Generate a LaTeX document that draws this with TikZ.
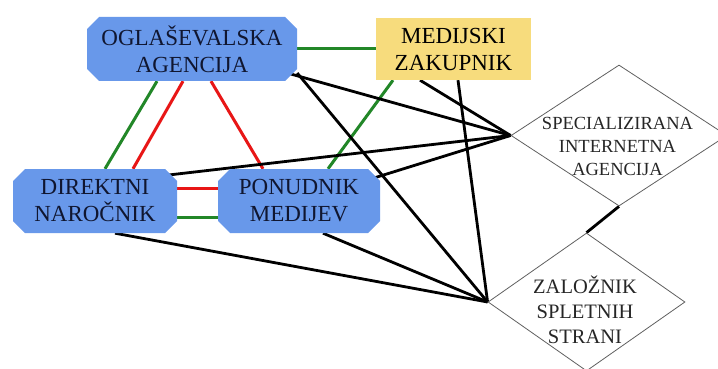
\documentclass[tikz,border=0pt]{standalone}
\usepackage{fontspec}
\setmainfont{Liberation Serif}
\usetikzlibrary{shapes.misc,shapes.geometric,calc,backgrounds}
\definecolor{boxblue}{RGB}{104,152,234}
\definecolor{boxyellow}{RGB}{247,220,125}
\definecolor{lgreen}{RGB}{34,135,40}
\definecolor{lred}{RGB}{232,22,22}
\definecolor{txtnavy}{RGB}{16,22,48}
\definecolor{diagray}{RGB}{95,95,95}
\begin{document}
\begin{tikzpicture}[x=1pt,y=-1pt,
  bluebox/.style={chamfered rectangle, chamfered rectangle xsep=6pt, chamfered rectangle ysep=6pt,
     fill=boxblue, draw=none, inner sep=0pt, align=center, text=txtnavy,
     font=\fontsize{23}{27}\selectfont},
  yellowbox/.style={rectangle, fill=boxyellow, draw=none, inner sep=0pt, align=center, text=black,
     font=\fontsize{23}{27}\selectfont},
  diam/.style={diamond, draw=diagray, line width=0.8pt, inner sep=0pt},
  diamtext/.style={align=center, text=black!85, inner sep=0pt},
  gline/.style={draw=lgreen, line width=3pt},
  rline/.style={draw=lred, line width=3pt},
  kline/.style={draw=black, line width=2.8pt}]
\useasboundingbox (0,0) rectangle (718,369);
% boxes
\node[bluebox, minimum width=210pt, minimum height=64pt] (OA) at (192,49) {OGLAŠEVALSKA\\AGENCIJA};
\node[yellowbox, minimum width=155pt, minimum height=62pt] (MZ) at (453.5,49) {MEDIJSKI\\ZAKUPNIK};
\node[bluebox, minimum width=164pt, minimum height=64pt] (DN) at (95,201) {DIREKTNI\\NAROČNIK};
\node[bluebox, minimum width=162pt, minimum height=64pt] (PM) at (299,201) {PONUDNIK\\MEDIJEV};
\node[diam, minimum width=216pt, minimum height=141pt] (SIA) at (619,135.5) {};
\node[diamtext, font=\fontsize{18.5}{23}\selectfont] (SIAt) at (617.5,146) {SPECIALIZIRANA\\INTERNETNA\\AGENCIJA};
\node[diam, minimum width=197pt, minimum height=138pt] (ZS) at (586.5,302) {};
\node[diamtext, font=\fontsize{20.5}{25}\selectfont] (ZSt) at (585,310) {ZALOŽNIK\\SPLETNIH\\STRANI};
\begin{scope}[on background layer]
% green
\draw[gline] (OA.east) -- (MZ.west);
\draw[gline] ($(OA.south)+(-35,0)$) -- ($(DN.north)+(10,0)$);
\draw[gline] ($(MZ.south)+(-60.5,0)$) -- ($(PM.north)+(29,0)$);
\draw[gline] ($(DN.east)+(0,16)$) -- ($(PM.west)+(0,16)$);
% red
\draw[rline] ($(OA.south)+(-9,0)$) -- ($(DN.north)+(38,0)$);
\draw[rline] ($(OA.south)+(19,0)$) -- ($(PM.north)+(-36,0)$);
\draw[rline] ($(DN.east)+(0,-13)$) -- ($(PM.west)+(0,-13)$);
% black
\draw[kline] ($(OA.south east)+(-7,-3)$) -- (SIA.west);
\draw[kline] ($(OA.east)+(0,24)$) -- (ZS.west);
\draw[kline] ($(MZ.south)+(-33.5,0)$) -- (SIA.west);
\draw[kline] ($(MZ.south)+(4.5,0)$) -- (ZS.west);
\draw[kline] ($(DN.north east)+(-10,1)$) -- (SIA.west);
\draw[kline] ($(PM.north east)+(-3,4)$) -- (SIA.west);
\draw[kline] ($(DN.south)+(20,0)$) -- (ZS.west);
\draw[kline] ($(PM.south)+(24,0)$) -- (ZS.west);
\draw[kline] (SIA.south) -- (ZS.north);
\end{scope}
\end{tikzpicture}
\end{document}
